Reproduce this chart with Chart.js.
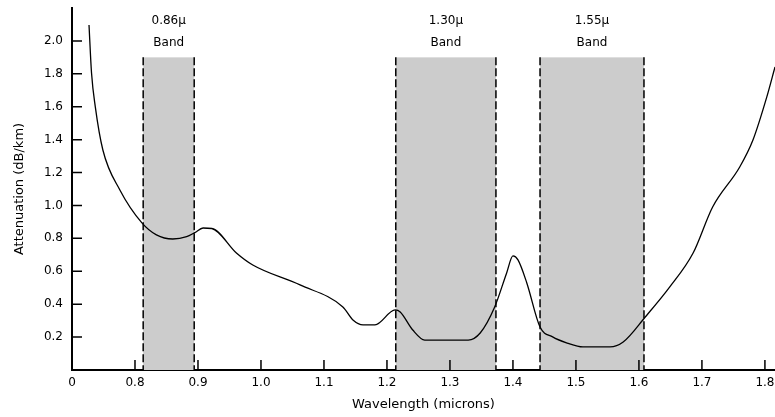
<!DOCTYPE html>
<html>
<head>
<meta charset="utf-8">
<script src="https://cdn.jsdelivr.net/npm/chart.js@4.4.0/dist/chart.umd.min.js"></script>
<style>
  body { margin: 0; background: #fff; }
  #wrap { width: 775px; height: 417px; }
</style>
</head>
<body>
<div id="wrap"><canvas id="lossChart" width="775" height="417"></canvas></div>
<script>
// attenuation curve
const wavelength = [0.727, 0.731, 0.737, 0.749, 0.776, 0.811, 0.834, 0.860, 0.882, 0.895, 0.908, 0.922,
  0.961, 0.987, 1.062, 1.130, 1.146, 1.162, 1.181, 1.213, 1.221, 1.241, 1.260, 1.329, 1.348, 1.371, 1.390,
  1.400, 1.408, 1.422, 1.443, 1.463, 1.486, 1.511, 1.554, 1.575, 1.610, 1.649, 1.686, 1.717, 1.760, 1.781,
  1.803, 1.816];
const attenuation = [2.097, 1.805, 1.599, 1.337, 1.094, 0.894, 0.821, 0.796, 0.810, 0.835, 0.863, 0.860,
  0.711, 0.638, 0.517, 0.383, 0.304, 0.274, 0.274, 0.365, 0.353, 0.243, 0.182, 0.182, 0.225, 0.383, 0.590,
  0.693, 0.669, 0.529, 0.261, 0.201, 0.164, 0.140, 0.140, 0.170, 0.322, 0.505, 0.711, 0.991, 1.234, 1.398,
  1.660, 1.842];

// bands
const bandStart = [0.813, 1.214, 1.443];
const bandEnd = [0.894, 1.373, 1.608];
const bandName = ['0.86\u00b5', '1.30\u00b5', '1.55\u00b5'];
const bandTop = 1.9;

// ticks (axis is broken: first tick stands for 0)
const xTickValues = [0.7, 0.8, 0.9, 1.0, 1.1, 1.2, 1.3, 1.4, 1.5, 1.6, 1.7, 1.8];
const xTickLabels = ['0', '0.8', '0.9', '1.0', '1.1', '1.2', '1.3', '1.4', '1.5', '1.6', '1.7', '1.8'];
const yTickValues = [0.2, 0.4, 0.6, 0.8, 1.0, 1.2, 1.4, 1.6, 1.8, 2.0];
const yTickLabels = ['0.2', '0.4', '0.6', '0.8', '1.0', '1.2', '1.4', '1.6', '1.8', '2.0'];

const fontFam = '"DejaVu Sans", sans-serif';

const bandPlugin = {
  id: 'bands',
  beforeDatasetsDraw(chart) {
    const c = chart.ctx, xs = chart.scales.x, ys = chart.scales.y;
    const yTop = ys.getPixelForValue(bandTop), yBot = ys.getPixelForValue(0);
    c.save();
    for (let i = 0; i < bandStart.length; i++) {
      const x1 = xs.getPixelForValue(bandStart[i]), x2 = xs.getPixelForValue(bandEnd[i]);
      c.fillStyle = '#cccccc';
      c.fillRect(x1, yTop, x2 - x1, yBot - yTop);
      c.strokeStyle = '#000';
      c.lineWidth = 1.5;
      c.setLineDash([8, 3]);
      c.beginPath();
      c.moveTo(x1, yTop); c.lineTo(x1, yBot);
      c.moveTo(x2, yTop); c.lineTo(x2, yBot);
      c.stroke();
      c.setLineDash([]);
      c.fillStyle = '#000';
      c.font = '12px ' + fontFam;
      c.textAlign = 'center';
      c.textBaseline = 'middle';
      const cx = (x1 + x2) / 2;
      c.fillText(bandName[i], cx, 21);
      c.fillText('Band', cx, 43);
    }
    c.restore();
  },
  afterDraw(chart) {
    // tick marks pointing into the plot
    const c = chart.ctx, xs = chart.scales.x, ys = chart.scales.y;
    const a = chart.chartArea;
    c.save();
    c.strokeStyle = '#000';
    c.lineWidth = 1.5;
    c.beginPath();
    xTickValues.slice(1).forEach(v => {
      const px = xs.getPixelForValue(v);
      c.moveTo(px, a.bottom); c.lineTo(px, a.bottom - 10);
    });
    yTickValues.forEach(v => {
      const py = ys.getPixelForValue(v);
      c.moveTo(a.left, py); c.lineTo(a.left + 10, py);
    });
    c.stroke();
    c.restore();
  }
};

const ctx = document.getElementById('lossChart');
new Chart(ctx, {
  type: 'line',
  data: {
    datasets: [{
      data: wavelength.map((w, i) => ({x: w, y: attenuation[i]})),
      borderColor: '#000',
      borderWidth: 1.3,
      pointRadius: 0,
      cubicInterpolationMode: 'monotone',
      fill: false
    }]
  },
  options: {
    responsive: false,
    animation: false,
    layout: { padding: { top: 8, right: 0, bottom: 0, left: 0 } },
    plugins: { legend: { display: false }, tooltip: { enabled: false } },
    scales: {
      x: {
        type: 'linear',
        min: 0.7,
        max: 1.816,
        afterBuildTicks: s => { s.ticks = xTickValues.map(v => ({value: v})); },
        afterFit: s => { s.height = 47; s.paddingLeft = 0; s.paddingRight = 0; },
        grid: { display: false, drawTicks: false },
        border: { display: true, color: '#000', width: 2 },
        ticks: {
          color: '#000',
          padding: 6,
          maxRotation: 0,
          autoSkip: false,
          font: { family: fontFam, size: 12 },
          callback: v => xTickLabels[xTickValues.findIndex(t => Math.abs(t - v) < 1e-6)]
        },
        title: {
          display: true,
          text: 'Wavelength (microns)',
          color: '#000',
          font: { family: fontFam, size: 13 },
          padding: { top: 0, bottom: 5 }
        }
      },
      y: {
        min: 0,
        max: 2.2,
        afterBuildTicks: s => { s.ticks = yTickValues.map(v => ({value: v})); },
        afterFit: s => { s.width = 72; s.paddingTop = 0; s.paddingBottom = 0; },
        grid: { display: false, drawTicks: false },
        border: { display: true, color: '#000', width: 2 },
        ticks: {
          color: '#000',
          padding: 9,
          autoSkip: false,
          font: { family: fontFam, size: 12 },
          callback: v => yTickLabels[yTickValues.findIndex(t => Math.abs(t - v) < 1e-6)]
        },
        title: {
          display: true,
          text: 'Attenuation (dB/km)',
          color: '#000',
          font: { family: fontFam, size: 13 },
          padding: { top: 12, bottom: 0 }
        }
      }
    }
  },
  plugins: [bandPlugin]
});
</script>
</body>
</html>
